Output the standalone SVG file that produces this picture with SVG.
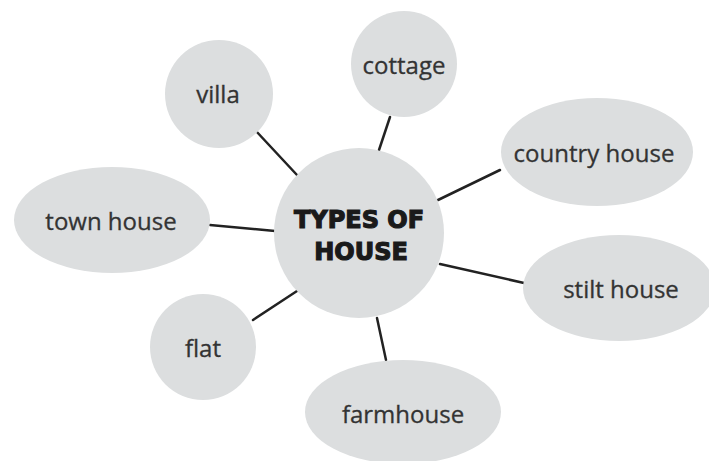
<svg xmlns="http://www.w3.org/2000/svg" width="709" height="461" viewBox="0 0 709 461">
<style>
.n{fill:#dcdedf}
.t{font-family:"Open Sans",sans-serif;font-size:24px;fill:#333;stroke:#333;stroke-width:0.3;text-anchor:middle}
.c{font-family:"DejaVu Sans",sans-serif;font-weight:bold;font-size:24px;fill:#1a1a1a;stroke:#1a1a1a;stroke-width:1.2;text-anchor:middle}
.l{stroke:#222;stroke-width:2.5;stroke-linecap:round}
</style>
<rect width="709" height="461" fill="#fff"/>
<g id="connectors">
<line class="l" x1="256" y1="131" x2="297" y2="175"/>
<line class="l" x1="390" y1="117" x2="379" y2="150"/>
<line class="l" x1="500" y1="170" x2="438" y2="200"/>
<line class="l" x1="210" y1="225" x2="275" y2="231"/>
<line class="l" x1="440" y1="264" x2="524" y2="283"/>
<line class="l" x1="253" y1="320" x2="297" y2="291"/>
<line class="l" x1="377" y1="318" x2="386" y2="360"/>
</g>
<g id="center"><circle class="n" cx="359" cy="233" r="85"/><text class="c" x="359" y="228">TYPES OF</text><text class="c" x="361" y="260">HOUSE</text></g>
<g id="villa"><circle class="n" cx="219" cy="94" r="54"/><text class="t" x="218" y="103">villa</text></g>
<g id="cottage"><circle class="n" cx="404" cy="64" r="53"/><text class="t" x="404" y="74">cottage</text></g>
<g id="country-house"><ellipse class="n" cx="597" cy="152" rx="96" ry="54"/><text class="t" x="594" y="162">country house</text></g>
<g id="town-house"><ellipse class="n" cx="112" cy="220" rx="98" ry="53"/><text class="t" x="111" y="230">town house</text></g>
<g id="stilt-house"><ellipse class="n" cx="619" cy="288" rx="96" ry="53"/><text class="t" x="621" y="298">stilt house</text></g>
<g id="flat"><circle class="n" cx="203" cy="347" r="53"/><text class="t" x="203" y="357">flat</text></g>
<g id="farmhouse"><ellipse class="n" cx="403" cy="412" rx="98" ry="52"/><text class="t" x="403" y="423">farmhouse</text></g>
</svg>
